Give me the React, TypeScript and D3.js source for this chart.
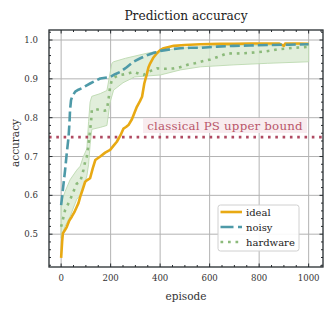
import React, { useEffect } from "react";
import * as d3 from "d3";

// [episode, accuracy]
const ideal: [number, number][] = [
  [0, 0.439], [4, 0.48], [7, 0.502], [15, 0.51], [23, 0.519], [33, 0.535], [43, 0.545],
  [53, 0.556], [63, 0.57], [70, 0.58], [77, 0.596], [87, 0.615], [97, 0.635], [107, 0.64],
  [117, 0.644], [128, 0.67], [138, 0.691], [158, 0.7], [178, 0.71], [198, 0.717], [212, 0.728],
  [225, 0.738], [240, 0.755], [252, 0.772], [262, 0.776], [272, 0.781], [286, 0.796],
  [296, 0.812], [306, 0.828], [318, 0.842], [327, 0.854], [336, 0.888], [347, 0.914],
  [353, 0.93], [360, 0.94], [373, 0.955], [387, 0.966], [400, 0.974], [414, 0.979],
  [435, 0.982], [455, 0.985], [500, 0.987], [563, 0.989], [640, 0.99], [698, 0.99],
  [760, 0.991], [833, 0.991], [880, 0.991], [900, 0.985], [905, 0.991], [960, 0.991], [1000, 0.99],
];

const noisy: [number, number][] = [
  [0, 0.575], [8, 0.62], [16, 0.665], [23, 0.71], [30, 0.75], [34, 0.79], [36, 0.82],
  [40, 0.845], [45, 0.855], [57, 0.867], [70, 0.872], [84, 0.876], [100, 0.882], [117, 0.888],
  [138, 0.895], [158, 0.901], [178, 0.903], [198, 0.905], [218, 0.912], [239, 0.918],
  [265, 0.93], [293, 0.944], [320, 0.953], [347, 0.961], [375, 0.967], [401, 0.972],
  [440, 0.976], [482, 0.979], [520, 0.98], [563, 0.98], [630, 0.983], [697, 0.985],
  [760, 0.986], [833, 0.987], [920, 0.988], [1000, 0.989],
];

const hardware: [number, number][] = [
  [0, 0.519], [8, 0.54], [16, 0.562], [26, 0.575], [36, 0.588], [50, 0.61], [63, 0.63],
  [77, 0.635], [90, 0.665], [98, 0.69], [104, 0.7], [111, 0.734], [117, 0.768], [121, 0.79],
  [124, 0.82], [140, 0.822], [158, 0.82], [175, 0.818], [185, 0.82], [192, 0.85], [198, 0.88],
  [205, 0.897], [219, 0.905], [239, 0.91], [260, 0.912], [293, 0.918], [315, 0.913],
  [333, 0.91], [360, 0.92], [387, 0.927], [420, 0.926], [455, 0.927], [480, 0.93],
  [509, 0.936], [540, 0.94], [563, 0.944], [603, 0.95], [640, 0.958], [671, 0.966],
  [700, 0.965], [738, 0.966], [780, 0.968], [819, 0.97], [850, 0.973], [873, 0.976],
  [910, 0.978], [940, 0.98], [970, 0.981], [1000, 0.983],
];

const bandUpper: [number, number][] = [
  [0, 0.58], [16, 0.61], [36, 0.64], [63, 0.665], [77, 0.675], [90, 0.7], [104, 0.72],
  [111, 0.79], [117, 0.84], [124, 0.855], [158, 0.862], [185, 0.87], [205, 0.94], [212, 0.944],
  [260, 0.953], [347, 0.966], [410, 0.973], [482, 0.979], [617, 0.985], [752, 0.987],
  [887, 0.987], [1000, 0.99],
];

const bandLower: [number, number][] = [
  [0, 0.49], [16, 0.52], [36, 0.545], [63, 0.59], [77, 0.6], [90, 0.62], [104, 0.65],
  [111, 0.68], [117, 0.73], [124, 0.77], [158, 0.775], [185, 0.78], [198, 0.84], [212, 0.871],
  [250, 0.89], [297, 0.905], [401, 0.91], [482, 0.923], [563, 0.931], [698, 0.936],
  [833, 0.94], [1000, 0.944],
];

const classicalBound = 0.75;
const xTicks = [0, 200, 400, 600, 800, 1000];
const yTicks = [0.5, 0.6, 0.7, 0.8, 0.9, 1.0];

const series = [
  { name: "ideal", data: ideal, color: "#e8a913", dash: "none", legendDash: "none" },
  { name: "noisy", data: noisy, color: "#4e9aa8", dash: "10,4", legendDash: "13,4.5" },
  { name: "hardware", data: hardware, color: "#8cba7b", dash: "2.7,4.8", legendDash: "2.7,4.8" },
];

const W = 333;
const H = 312;
const L = 49, R = 323, T = 30, B = 267;
const font = "'DejaVu Serif', serif";
const dark = "#262b2f";

export default function App() {
  useEffect(() => {
    document.body.style.margin = "0";
  }, []);

  const x = d3.scaleLinear().domain([-49, 1058]).range([L, R]);
  const y = d3.scaleLinear().domain([0.4155, 1.0258]).range([B, T]);

  const line = d3.line<[number, number]>().x((d) => x(d[0])).y((d) => y(d[1]));
  const bandArea = d3
    .area<number>()
    .x((_, i) => x(bandUpper[i][0]))
    .y0((_, i) => y(bandLower[i][1]))
    .y1((_, i) => y(bandUpper[i][1]));

  // band: upper forward, lower backward
  const bandPath =
    "M" +
    bandUpper.map((d) => `${x(d[0])},${y(d[1])}`).join("L") +
    "L" +
    bandLower
      .slice()
      .reverse()
      .map((d) => `${x(d[0])},${y(d[1])}`)
      .join("L") +
    "Z";
  void bandArea;

  const xMinor = d3.range(0, 1051, 50).filter((v) => v % 200 !== 0);
  const yMinor = d3.range(0.42, 1.021, 0.02).filter((v) => Math.abs(v * 10 - Math.round(v * 10)) > 0.01);

  return (
    <svg width={W} height={H} style={{ display: "block", fontFamily: font }}>
      <rect width={W} height={H} fill="#fff" />
      <text x={186} y={20} textAnchor="middle" fontSize={12.2} fill="#222">
        Prediction accuracy
      </text>

      <defs>
        <clipPath id="plot">
          <rect x={L} y={T} width={R - L} height={B - T} />
        </clipPath>
      </defs>

      {/* grid */}
      <g stroke="#b3b3b3" strokeWidth={1}>
        {xTicks.map((t) => (
          <line key={"gx" + t} x1={x(t)} x2={x(t)} y1={T} y2={B} />
        ))}
        {yTicks.map((t) => (
          <line key={"gy" + t} x1={L} x2={R} y1={y(t)} y2={y(t)} />
        ))}
      </g>

      <g clipPath="url(#plot)">
        <path d={bandPath} fill="#dcebd5" fillOpacity={0.85} stroke="#bcd9b0" strokeWidth={0.9} />
        {/* classical bound */}
        <rect x={143} y={118} width={164} height={15} fill="#f7eaed" fillOpacity={0.9} />
        <line
          x1={L}
          x2={R}
          y1={y(classicalBound)}
          y2={y(classicalBound)}
          stroke="#b04a62"
          strokeWidth={2.6}
          strokeDasharray="2.6,4.7"
        />
        {series.map((s) => (
          <path
            key={s.name}
            d={line(s.data) || ""}
            fill="none"
            stroke={s.color}
            strokeWidth={2.6}
            strokeDasharray={s.dash}
            strokeLinejoin="round"
          />
        ))}
      </g>
      <text x={225} y={129.5} textAnchor="middle" fontSize={11.8} fill="#b8566a" letterSpacing={0.2}>
        classical PS upper bound
      </text>

      {/* legend */}
      <rect x={218} y={205} width={81} height={46} rx={2.5} fill="#fff" fillOpacity={0.9} stroke="#d0d0d0" strokeWidth={1} />
      {series.map((s, i) => {
        const ly = 212 + i * 15;
        return (
          <g key={"lg" + s.name}>
            <line x1={220.5} x2={242} y1={ly} y2={ly} stroke={s.color} strokeWidth={2.6} strokeDasharray={s.legendDash} />
            <text x={246} y={ly + 3.5} fontSize={10} fill="#222">
              {s.name}
            </text>
          </g>
        );
      })}

      {/* frame */}
      <rect x={L} y={T} width={R - L} height={B - T} fill="none" stroke={dark} strokeWidth={1.3} />

      {/* ticks */}
      <g stroke={dark} strokeWidth={1}>
        {xTicks.map((t) => (
          <g key={"tx" + t}>
            <line x1={x(t)} x2={x(t)} y1={B} y2={B - 3.5} />
            <line x1={x(t)} x2={x(t)} y1={T} y2={T + 3.5} />
          </g>
        ))}
        {xMinor.map((t) => (
          <g key={"mx" + t}>
            <line x1={x(t)} x2={x(t)} y1={B} y2={B - 2} />
            <line x1={x(t)} x2={x(t)} y1={T} y2={T + 2} />
          </g>
        ))}
        {yTicks.map((t) => (
          <g key={"ty" + t}>
            <line x1={L} x2={L + 3.5} y1={y(t)} y2={y(t)} />
            <line x1={R} x2={R - 3.5} y1={y(t)} y2={y(t)} />
          </g>
        ))}
        {yMinor.map((t) => (
          <g key={"my" + t}>
            <line x1={L} x2={L + 2} y1={y(t)} y2={y(t)} />
            <line x1={R} x2={R - 2} y1={y(t)} y2={y(t)} />
          </g>
        ))}
      </g>

      {/* tick labels */}
      <g fontSize={8.6} fill="#333">
        {xTicks.map((t) => (
          <text key={"lx" + t} x={x(t)} y={281} textAnchor="middle">
            {t}
          </text>
        ))}
        {yTicks.map((t) => (
          <text key={"ly" + t} x={38} y={y(t) + 3} textAnchor="end">
            {t.toFixed(1)}
          </text>
        ))}
      </g>

      <text x={186} y={300} textAnchor="middle" fontSize={10.5} fill="#333">
        episode
      </text>
      <text transform="translate(19,143) rotate(-90)" textAnchor="middle" fontSize={10.5} fill="#333">
        accuracy
      </text>
    </svg>
  );
}
